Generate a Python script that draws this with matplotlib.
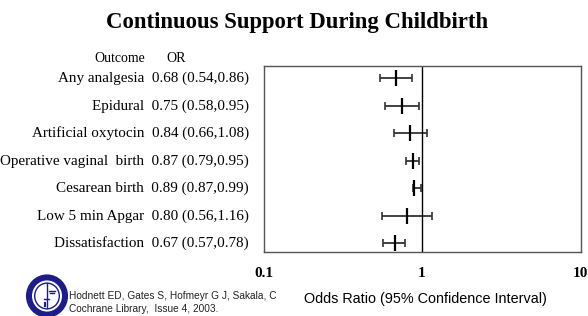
import matplotlib.pyplot as plt
import matplotlib.transforms as mtransforms
from matplotlib.patches import Ellipse

# Data
outcomes = ['Any analgesia', 'Epidural', 'Artificial oxytocin', 'Operative vaginal  birth',
            'Cesarean birth', 'Low 5 min Apgar', 'Dissatisfaction']
odds = [0.68, 0.75, 0.84, 0.87, 0.89, 0.80, 0.67]
ci_low = [0.54, 0.58, 0.66, 0.79, 0.87, 0.56, 0.57]
ci_high = [0.86, 0.95, 1.08, 0.95, 0.99, 1.16, 0.78]
tick_vals = [0.1, 1, 10]
tick_labels = ['0.1', '1', '10']

serif = 'Liberation Serif'
sans = 'Liberation Sans'

W, H = 588, 316
fig = plt.figure(figsize=(W / 100, H / 100), dpi=100)

ax = fig.add_axes([263.7 / W, 1 - 252 / H, (580.5 - 263.7) / W, (252 - 66) / H])
rows = list(range(len(outcomes)))

lo_err = [o - l for o, l in zip(odds, ci_low)]
hi_err = [h - o for o, h in zip(odds, ci_high)]
ax.errorbar(odds, rows, xerr=[lo_err, hi_err], fmt='none', ecolor='#333333',
            elinewidth=1.3, capsize=3, capthick=1.2)
ax.plot(odds, rows, '|', color='black', ms=12, mew=1.6)
ax.axvline(1, color='black', lw=1)

ax.set_xscale('log')
ax.set_xlim(0.1, 10)
ax.set_ylim(len(outcomes) - 1 + 0.316, -0.447)
ax.set_yticks([])
ax.set_xticks(tick_vals)
ax.set_xticklabels(tick_labels, fontfamily=serif, fontweight='bold', fontsize=11)
ax.minorticks_off()
ax.tick_params(axis='x', length=0, pad=11)
for s in ax.spines.values():
    s.set_color('#555555')
    s.set_linewidth(1)

# left-hand labels
trans = mtransforms.blended_transform_factory(fig.transFigure, ax.transData)
for r, name, o, l, h in zip(rows, outcomes, odds, ci_low, ci_high):
    ax.text(249 / W, r, f'{name}  {o:.2f} ({l:.2f},{h:.2f})', transform=trans,
            ha='right', va='center', fontfamily=serif, fontsize=10.9, clip_on=False)

fig.text(120 / W, 1 - 58 / H, 'Outcome', ha='center', va='center', fontfamily=serif, fontsize=10)
fig.text(176.5 / W, 1 - 58 / H, 'OR', ha='center', va='center', fontfamily=serif, fontsize=10)

fig.text(297 / W, 1 - 22.5 / H, 'Continuous Support During Childbirth', ha='center', va='center',
         fontfamily=serif, fontweight='bold', fontsize=16.4)

fig.text(425 / W, 1 - 299 / H, 'Odds Ratio (95% Confidence Interval)', ha='center', va='center',
         fontfamily=sans, fontsize=10.4)

fig.text(69 / W, 1 - 296 / H, 'Hodnett ED, Gates S, Hofmeyr G J, Sakala, C', ha='left', va='center',
         fontfamily=sans, fontsize=7.3, color='#222222')
fig.text(69 / W, 1 - 309 / H, 'Cochrane Library,  Issue 4, 2003.', ha='left', va='center',
         fontfamily=sans, fontsize=7.3, color='#222222')

# Cochrane logo
lax = fig.add_axes([25 / W, 1 - 318 / H, 44 / W, 44 / H])
lax.set_xlim(-1, 1)
lax.set_ylim(-1, 1)
lax.axis('off')
navy = '#1c1c8a'
lax.add_patch(Ellipse((0, 0), 1.85, 1.9, color=navy))
lax.add_patch(Ellipse((0, 0), 1.3, 1.35, color='white'))
lax.add_patch(Ellipse((0, 0), 1.12, 1.17, fill=False, ec=navy, lw=1))
lax.plot([0, 0], [-0.55, 0.58], color=navy, lw=1)
lax.plot([0.1, 0.35], [0.25, 0.25], color=navy, lw=1)
lax.plot([0.12, 0.3], [0.12, 0.12], color=navy, lw=1)
lax.plot([-0.15, 0.1], [-0.12, -0.12], color=navy, lw=1)
lax.plot([-0.1, -0.1], [-0.45, -0.3], color=navy, lw=1.5)

fig.savefig('out.png', dpi=100)
